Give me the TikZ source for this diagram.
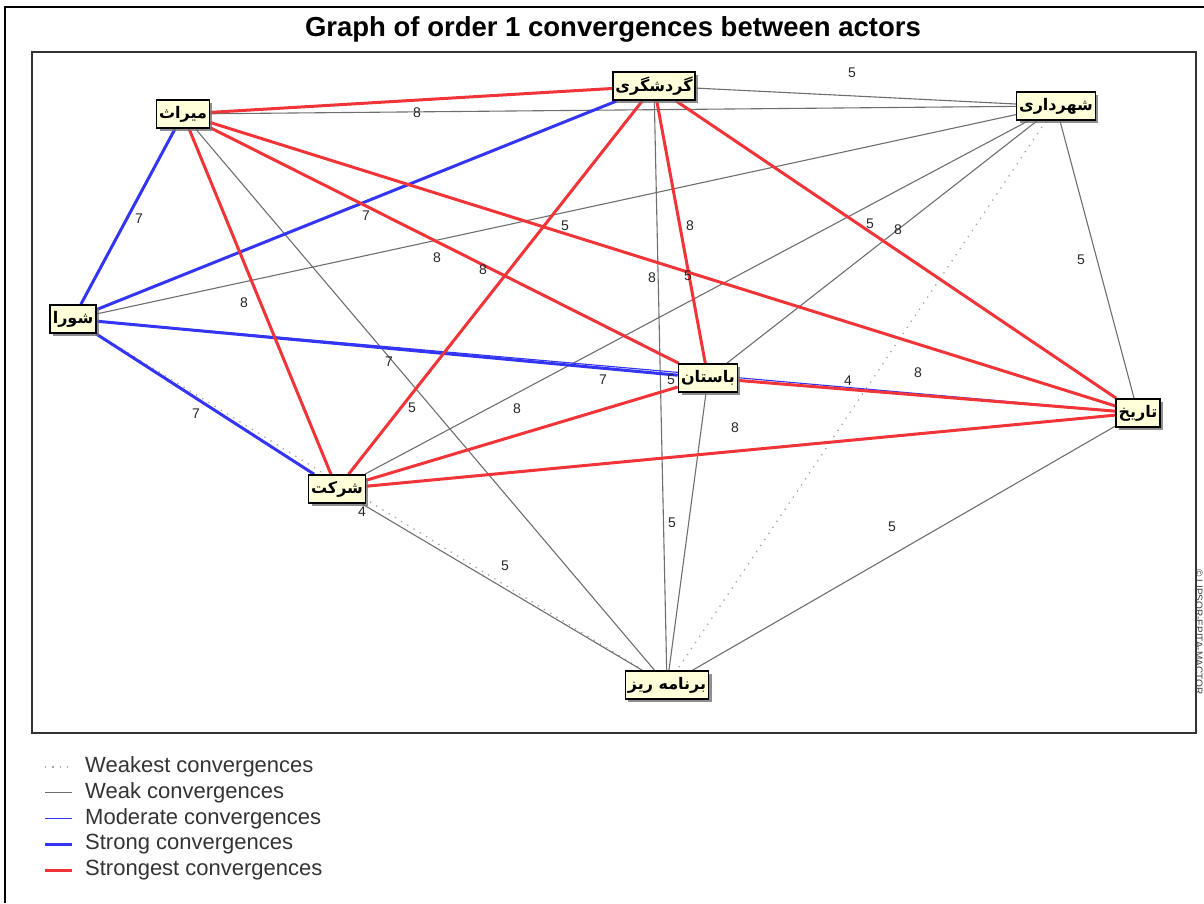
\documentclass[tikz,border=0pt]{standalone}
\usepackage{fontspec}
\setmainfont{Liberation Sans}
\newfontfamily\arabicfont[Script=Arabic]{DejaVu Sans}
\TeXXeTstate=1
\usetikzlibrary{shadows,backgrounds}
\definecolor{convred}{RGB}{240,52,56}
\definecolor{convblue}{RGB}{52,52,245}
\definecolor{convgray}{RGB}{110,110,110}
\definecolor{convdot}{RGB}{165,165,165}
\definecolor{actorfill}{RGB}{255,255,218}

\begin{document}
\begin{tikzpicture}[x=1pt, y=-1pt,
  actor/.style={draw, line width=1.6pt, fill=actorfill, inner sep=2.5pt,
                minimum height=28pt,
                font=\arabicfont\bfseries\fontsize{16}{16}\selectfont,
                drop shadow={shadow xshift=3pt, shadow yshift=-3pt,
                             fill=black!55, opacity=0.8}},
  weakest/.style={convdot, line width=1.3pt, dash pattern=on 1.3pt off 6pt},
  weak/.style={convgray, line width=1.1pt},
  moderate/.style={convblue, line width=1.1pt},
  strong/.style={convblue, line width=3pt},
  strongest/.style={convred, line width=3pt},
  val/.style={font=\fontsize{14}{14}\selectfont, text=black!85, inner sep=1pt},
  legtext/.style={anchor=west, font=\fontsize{22}{22}\selectfont,
                  text=black!80, inner sep=0pt}]

  \useasboundingbox (0,0) rectangle (1204,903);
  \draw[line width=2pt] (5,903) -- (5,7) -- (1204,7);

  % Tytul
  \node[font=\bfseries\fontsize{27.5}{27.5}\selectfont] (title) at (613,29)
    {Graph of order 1 convergences between actors};

  % Aktorzy
  \node[actor] (mirath) at (183,114) {\beginR میراث\endR};
  \node[actor] (gardesh) at (654,86) {\beginR گردشگری\endR};
  \node[actor] (shahrdari) at (1056,106) {\beginR شهرداری\endR};
  \node[actor] (shura) at (73,319) {\beginR شورا\endR};
  \node[actor] (bastan) at (708,378) {\beginR باستان\endR};
  \node[actor] (tarikh) at (1138,413) {\beginR تاریخ\endR};
  \node[actor] (sherkat) at (337,489) {\beginR شرکت\endR};
  \node[actor] (barname) at (667,685) {\beginR برنامه ریز\endR};

  % Krawedzie pod aktorami
  \begin{scope}[on background layer]
    \draw[line width=1.5pt, black!80] (32,52) rectangle (1196,733);

    \draw[weakest] (shura) -- (barname);
    \draw[weakest] (shahrdari) -- (barname);

    \draw[weak] (mirath) -- (shahrdari);
    \draw[weak] (gardesh) -- (shahrdari);
    \draw[weak] (shura) -- (shahrdari);
    \draw[weak] (mirath) -- (barname);
    \draw[weak] (gardesh) -- (barname);
    \draw[weak] (bastan) -- (barname);
    \draw[weak] (shahrdari) -- (sherkat);
    \draw[weak] (shahrdari) -- (bastan);
    \draw[weak] (shahrdari) -- (tarikh);
    \draw[weak] (tarikh) -- (barname);
    \draw[weak] (sherkat) -- (barname);

    \draw[moderate] (shura) -- (tarikh);

    \draw[strong] (shura) -- (mirath);
    \draw[strong] (shura) -- (gardesh);
    \draw[strong] (shura) -- (bastan);
    \draw[strong] (shura) -- (sherkat);

    \draw[strongest] (mirath) -- (gardesh);
    \draw[strongest] (mirath) -- (sherkat);
    \draw[strongest] (mirath) -- (bastan);
    \draw[strongest] (mirath) -- (tarikh);
    \draw[strongest] (gardesh) -- (sherkat);
    \draw[strongest] (gardesh) -- (bastan);
    \draw[strongest] (gardesh) -- (tarikh);
    \draw[strongest] (sherkat) -- (bastan);
    \draw[strongest] (sherkat) -- (tarikh);
    \draw[strongest] (bastan) -- (tarikh);
  \end{scope}

  % Wartosci
  \foreach \vx/\vy/\vv [count=\i] in {852/73/5, 417/113/8, 139/219/7,
      366/216/7, 565/226/5, 690/226/8, 870/224/5, 898/230/8, 1081/260/5,
      437/258/8, 483/270/8, 652/278/8, 688/276/5, 244/303/8, 389/362/7,
      603/380/7, 671/380/5, 848/381/4, 918/373/8, 196/414/7, 412/408/5,
      517/409/8, 735/428/8, 362/512/4, 505/566/5, 672/523/5, 892/527/5}
    \node[val] (v\i) at (\vx,\vy) {\vv};

  % Prawa
  \node[rotate=-90, font=\fontsize{10}{10}\selectfont, text=black!75,
        inner sep=0pt] (copyright) at (1199,632) {© LIPSOR-EPITA-MACTOR};

  % Legenda
  \foreach \sty/\txt [count=\i from 0] in {weakest/Weakest convergences,
      weak/Weak convergences, moderate/Moderate convergences,
      strong/Strong convergences, strongest/Strongest convergences} {
    \draw[\sty] (45,{767+25.8*\i}) -- ++(27,0);
    \node[legtext] (leg\i) at (85,{767+25.8*\i}) {\txt};
  }
\end{tikzpicture}
\end{document}
